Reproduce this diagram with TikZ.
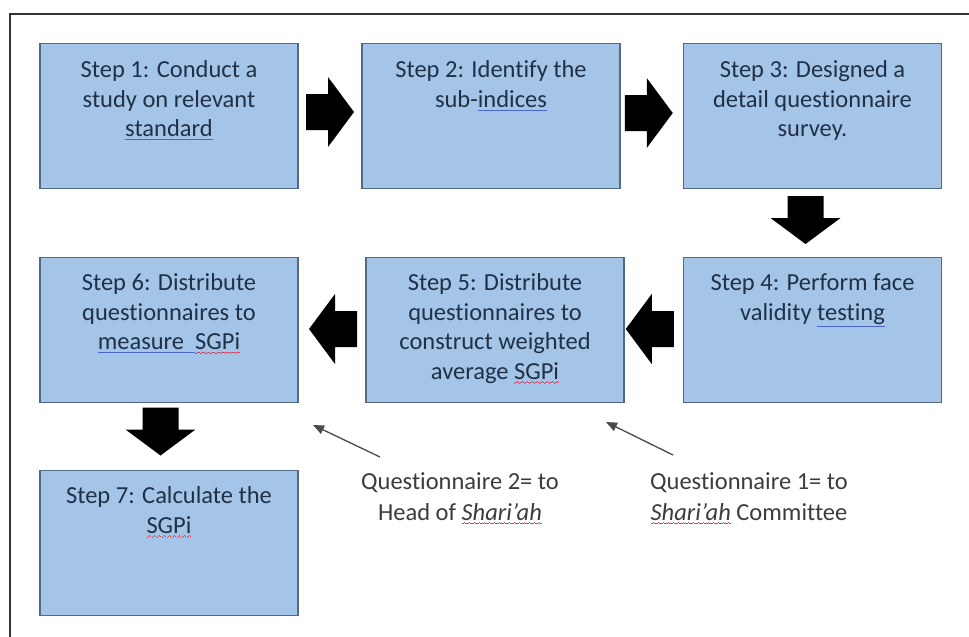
\documentclass[tikz,border=0pt]{standalone}
\usepackage{fontspec}
\setmainfont[Ligatures=NoCommon]{Carlito}
\usetikzlibrary{arrows.meta,calc}
\definecolor{boxfill}{HTML}{A5C5E8}
\definecolor{boxline}{HTML}{536A85}
\definecolor{boxtext}{HTML}{1F3047}
\definecolor{labeltext}{HTML}{3C3C3C}
\definecolor{framec}{HTML}{333333}
\definecolor{ulblue}{HTML}{4A66C8}
\definecolor{ulred}{HTML}{D8405A}
\definecolor{thinarrow}{HTML}{4A4A4A}
\newsavebox\myulbox
\newcommand\blueul[1]{\sbox\myulbox{#1}\leavevmode\vtop{\offinterlineskip\copy\myulbox\kern2pt\hbox to\wd\myulbox{\color{ulblue}\leaders\hrule height 0.9pt\hfil}}}
\newcommand\redwave[1]{\sbox\myulbox{#1}\leavevmode\vtop{\offinterlineskip\copy\myulbox\kern1.5pt\hbox to\wd\myulbox{\color{ulred}\xleaders\hbox{\rule{1.2pt}{0.8pt}\rule[0.8pt]{1.2pt}{0.8pt}\rule[1.6pt]{1.2pt}{0.8pt}\rule[0.8pt]{1.2pt}{0.8pt}}\hfil}}}
\tikzset{
  stepbox/.style={draw=boxline, fill=boxfill, line width=1.5pt, rectangle,
    minimum width=258pt, minimum height=145pt, inner sep=0pt},
  steptext/.style={anchor=north, align=center, inner sep=0pt, text=boxtext,
    font=\fontsize{24.5}{29.5}\selectfont},
  qlabel/.style={anchor=north, align=center, inner sep=0pt, text=labeltext,
    font=\fontsize{24.5}{31}\selectfont},
  qarrow/.style={draw=thinarrow, line width=1.3pt, -{Triangle[length=11pt,width=9pt]}},
  barrow/.pic={\fill[black] (-24,-18) -- (-2,-18) -- (-2,-35) -- (24,0) -- (-2,35) -- (-2,18) -- (-24,18) -- cycle;}
}
\begin{document}
\begin{tikzpicture}[x=1pt,y=-1pt]
\useasboundingbox (0,0) rectangle (969,637);
\fill[white] (0,0) rectangle (969,637);
% frame
\draw[framec, line width=2pt] (10,637) -- (10,14) -- (969,14);

% boxes
\node[stepbox] (b1) at (169,116) {};
\node[stepbox] (b2) at (491,116) {};
\node[stepbox] (b3) at (812.5,116) {};
\node[stepbox] (b4) at (812.5,330) {};
\node[stepbox] (b5) at (495,330) {};
\node[stepbox] (b6) at (169,330) {};
\node[stepbox] (b7) at (169,543) {};

% texts
\node[steptext] (t1) at ($(b1.north)+(0,18)$) {Step 1: Conduct a\\ study on relevant\\ \blueul{standard}};
\node[steptext] (t2) at ($(b2.north)+(0,18)$) {Step 2: Identify the\\ sub-\blueul{indices}};
\node[steptext] (t3) at ($(b3.north)+(0,18)$) {Step 3: Designed a\\ detail questionnaire\\ survey.};
\node[steptext] (t4) at ($(b4.north)+(0,17)$) {Step 4: Perform face\\ validity \blueul{testing}};
\node[steptext] (t5) at ($(b5.north)+(0,17)$) {Step 5: Distribute\\ questionnaires to\\ construct weighted\\ average \redwave{SGPi}};
\node[steptext] (t6) at ($(b6.north)+(0,17)$) {Step 6: Distribute\\ questionnaires to\\ \blueul{measure\ \ }\redwave{SGPi}};
\node[steptext] (t7) at ($(b7.north)+(0,17)$) {Step 7: Calculate the\\ \redwave{SGPi}};

% block arrows
\coordinate (a12) at ($($(b1.east)!0.5!(b2.west)$)+(0,-4)$);
\coordinate (a23) at ($($(b2.east)!0.5!(b3.west)$)+(-3,-3)$);
\coordinate (a34) at ($($(b3.south)!0.5!(b4.north)$)+(-7,-3)$);
\coordinate (a45) at ($($(b4.west)!0.5!(b5.east)$)+(-4,-1)$);
\coordinate (a56) at ($($(b5.west)!0.5!(b6.east)$)+(1,-1)$);
\coordinate (a67) at ($($(b6.south)!0.5!(b7.north)$)+(-8.5,-5)$);
\pic at (a12) {barrow};
\pic at (a23) {barrow};
\pic[rotate=-90] at (a34) {barrow};
\pic[rotate=180] at (a45) {barrow};
\pic[rotate=180] at (a56) {barrow};
\pic[rotate=-90] at (a67) {barrow};

% questionnaire labels
\node[qlabel] (q2) at (460,472) {Questionnaire 2= to\\ Head of \redwave{\textit{Shari’ah}}};
\node[qlabel] (q1) at (749,472) {Questionnaire 1= to\\ \redwave{\textit{Shari’ah}} Committee};
\coordinate (q2tail) at (380,457);
\coordinate (q2tip) at (313,425);
\coordinate (q1tail) at (673,455);
\coordinate (q1tip) at (606,422);
\draw[qarrow] (q2tail) -- (q2tip);
\draw[qarrow] (q1tail) -- (q1tip);
\end{tikzpicture}
\end{document}
